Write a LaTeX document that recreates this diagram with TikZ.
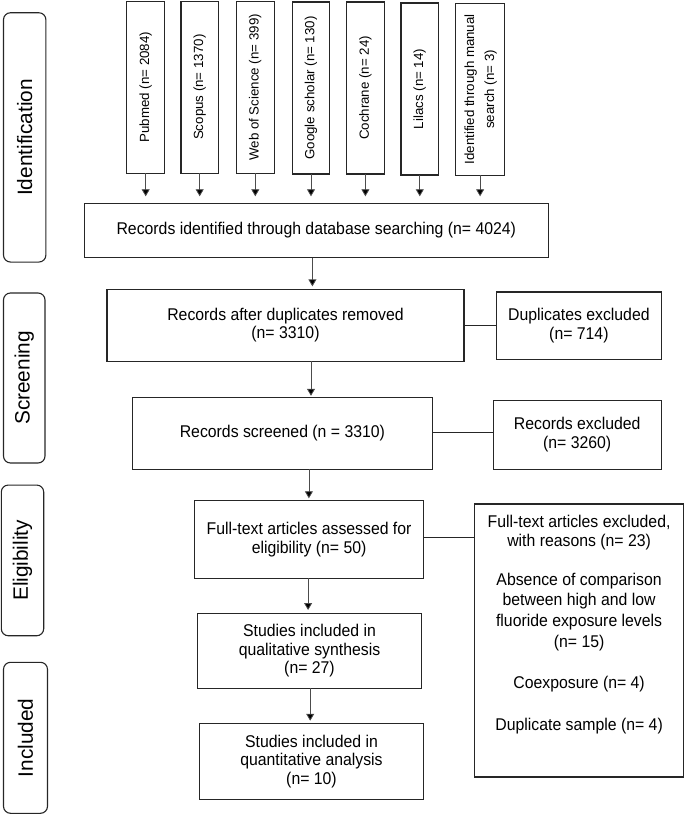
\documentclass[tikz,border=0pt]{standalone}
\usepackage{fontspec}
\setmainfont{Liberation Sans}
\newfontfamily\narrowfont{Liberation Sans}[FakeStretch=0.93]
\usetikzlibrary{arrows.meta}
\begin{document}
\begin{tikzpicture}[x=1pt,y=-1pt,
  box/.style={draw=black!85, line width=1.1pt, inner sep=0pt, outer sep=0pt, align=center, font=\narrowfont\fontsize{17}{18.6}\selectfont},
  srcbox/.style={draw=black!85, line width=1.1pt, inner sep=0pt, outer sep=0pt, font=\fontsize{13.3}{15.5}\selectfont},
  phase/.style={draw=black!85, line width=1.1pt, rounded corners=7pt, inner sep=0pt, outer sep=0pt, font=\fontsize{20.8}{24}\selectfont},
  txt/.style={inner sep=0pt, outer sep=0pt, align=center, font=\narrowfont\fontsize{17}{18.6}\selectfont},
  arr/.style={draw=black!70, line width=0.8pt, -{Triangle[width=8pt,length=7pt,fill=black]}},
  link/.style={draw=black!85, line width=1pt}]
\useasboundingbox (0,0) rectangle (685,814);

% phase labels
\node[phase, minimum width=42.4pt, minimum height=249.3pt] (pid) at (24.7,137.4) {\rotatebox{90}{Identification}};
\node[phase, minimum width=41.5pt, minimum height=170pt] (pscr) at (24.25,378) {\rotatebox{90}{Screening}};
\node[phase, minimum width=42.4pt, minimum height=150.7pt] (pel) at (22.5,560.4) {\rotatebox{90}{Eligibility}};
\node[phase, minimum width=44pt, minimum height=151pt] (pinc) at (25.5,737.8) {\rotatebox{90}{Included}};

% sources
\node[srcbox, minimum width=38pt, minimum height=172pt] (pub) at (145.7,87.2) {\rotatebox{90}{Pubmed (n= 2084)}};
\node[srcbox, minimum width=37.5pt, minimum height=172pt] (sco) at (199.7,87.2) {\rotatebox{90}{Scopus (n= 1370)}};
\node[srcbox, minimum width=38pt, minimum height=172pt] (wos) at (255.3,87.4) {\rotatebox{90}{Web of Science (n= 399)}};
\node[srcbox, minimum width=37.5pt, minimum height=172pt] (goo) at (311,88) {\rotatebox{90}{Google scholar (n= 130)}};
\node[srcbox, minimum width=38pt, minimum height=172pt] (coc) at (365.4,88) {\rotatebox{90}{Cochrane (n= 24)}};
\node[srcbox, minimum width=37.6pt, minimum height=172pt] (lil) at (419.8,89) {\rotatebox{90}{Lilacs (n= 14)}};
\node[srcbox, minimum width=49pt, minimum height=172pt] (man) at (480.1,89.3) {\rotatebox{90}{\renewcommand{\arraystretch}{1.3}\begin{tabular}{@{}c@{}}Identified through manual\\search (n= 3)\end{tabular}}};

% main flow
\node[box, minimum width=464pt, minimum height=54.4pt] (rec) at (316.3,230.5) {Records identified through database searching (n= 4024)};
\node[box, minimum width=357pt, minimum height=71.7pt] (dup) at (285.5,325.2) {Records after duplicates removed\\(n= 3310)};
\node[box, minimum width=164.3pt, minimum height=67.3pt] (dupx) at (578.9,325.6) {Duplicates excluded\\(n= 714)};
\node[box, minimum width=300pt, minimum height=72pt] (scr) at (282.4,433.3) {Records screened (n = 3310)};
\node[box, minimum width=167.7pt, minimum height=69.3pt] (rexc) at (577.2,434.7) {Records excluded\\(n= 3260)};
\node[box, minimum width=229.4pt, minimum height=77.6pt] (ft) at (309.1,539.5) {Full-text articles assessed for\\eligibility (n= 50)};
\node[box, minimum width=209.2pt, minimum height=273pt] (reas) at (579.1,640.5) {};
\node[txt, anchor=north] (reastxt) at (579.1,515.3) {Full-text articles excluded,\\with reasons (n= 23)\\[20.4pt]Absence of comparison\\[2.1pt]between high and low\\[2.1pt]fluoride exposure levels\\[2.1pt](n= 15)\\[23pt]Coexposure (n= 4)\\[23pt]Duplicate sample (n= 4)};
\node[box, minimum width=224pt, minimum height=75pt] (qual) at (309.5,650.8) {Studies included in\\qualitative synthesis\\(n= 27)};
\node[box, minimum width=224.6pt, minimum height=75.7pt] (quant) at (311.5,761.2) {Studies included in\\quantitative analysis\\(n= 10)};

% arrows from sources
\foreach \s in {pub,sco,wos,goo,coc,lil,man}
  \draw[arr, shorten >=7pt] (\s.south) -- (\s.south |- rec.north);

\draw[arr, shorten >=3pt] ([xshift=-3.9pt]rec.south) -- ([xshift=-3.9pt]rec.south |- dup.north);
\draw[arr, shorten >=1.5pt] ([xshift=25.5pt]dup.south) -- ([xshift=25.5pt]dup.south |- scr.north);
\draw[arr, shorten >=2.4pt] ([xshift=26.5pt]scr.south) -- ([xshift=26.5pt]scr.south |- ft.north);
\draw[arr, shorten >=3.3pt] ([xshift=-1pt]ft.south) -- ([xshift=-1pt]ft.south |- qual.north);
\draw[arr, shorten >=2.6pt] ([xshift=0.7pt]qual.south) -- ([xshift=0.7pt]qual.south |- quant.north);

% side links
\draw[link] (dup.east) -- (dup.east -| dupx.west);
\draw[link] ([yshift=1pt]scr.east) -- ([yshift=1pt]scr.east -| rexc.west);
\draw[link] ([yshift=1.8pt]ft.east) -- ([yshift=1.8pt]ft.east -| reas.west);
\end{tikzpicture}
\end{document}
